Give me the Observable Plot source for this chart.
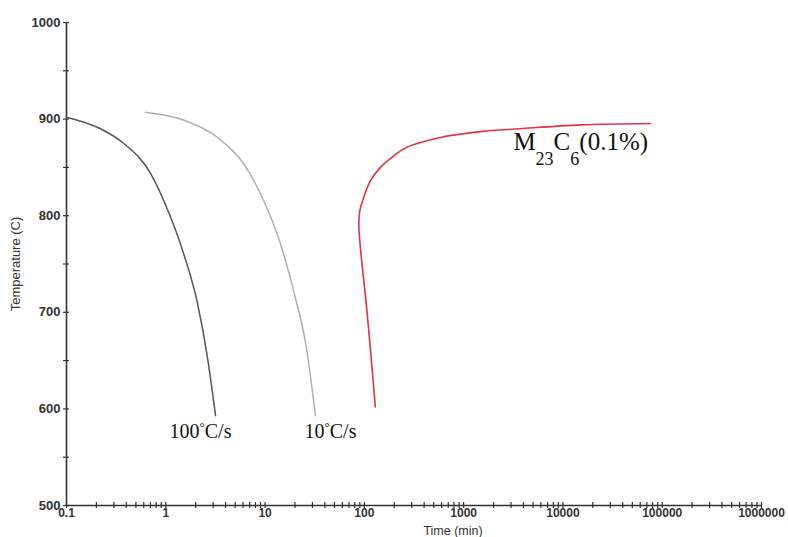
<!DOCTYPE html>
<html>
<head>
<meta charset="utf-8">
<script src="https://cdn.jsdelivr.net/npm/d3@7"></script>
<script src="https://cdn.jsdelivr.net/npm/@observablehq/plot@0.6"></script>
<style>
  html, body { margin: 0; padding: 0; background: #fff; }
  #chart { width: 788px; height: 537px; }
</style>
</head>
<body>
<div id="chart"></div>
<script>
// ---- data ----
const timeMajorTicks = [0.1, 1, 10, 100, 1000, 10000, 100000, 1000000];
const timeMinorFactors = [2, 3, 4, 5, 6, 7, 8, 9];
const tempMajorTicks = [500, 600, 700, 800, 900, 1000];
const tempMinorTicks = [550, 650, 750, 850, 950];

// 100 °C/s cooling curve
const cool100Time = [0.1, 0.22, 0.375, 0.70, 0.95, 1.51, 2.09, 2.63, 3.17];
const cool100Temp = [902, 890, 875, 844, 816, 761, 709, 653, 593];

// 10 °C/s cooling curve
const cool10Time = [0.625, 1.51, 3.32, 6.06, 9.64, 14.3, 19.3, 26.2, 32.2];
const cool10Temp = [907, 899, 881, 854, 816, 771, 723, 662, 593];

// M23C6 (0.1%) precipitation start curve
const m23Time = [129, 107, 91, 88, 90, 98.6, 115, 145, 198, 270, 584, 1476, 3700, 15000, 76000];
const m23Temp = [602, 698, 768, 790, 805, 819, 836, 850, 862, 871, 881, 887, 890, 894, 895.5];

const labels100 = "100°C/s";
const labels10 = "10°C/s";
const labelM23 = "M23C6(0.1%)";
const xTitle = "Time (min)";
const yTitle = "Temperature (C)";

// ---- tables built from the arrays ----
const s100 = cool100Time.map((t, i) => ({t, T: cool100Temp[i]}));
const s10 = cool10Time.map((t, i) => ({t, T: cool10Temp[i]}));
const sM = m23Time.map((t, i) => ({t, T: m23Temp[i]}));
const timeMinorTicks = timeMajorTicks.slice(0, -1).flatMap(d => timeMinorFactors.map(f => d * f));
const timeAllTicks = timeMajorTicks.concat(timeMinorTicks);
const tempAllTicks = tempMajorTicks.concat(tempMinorTicks);

const axisColor = "#333";
const fmtTime = d => d < 1 ? String(d) : d3.format("d")(d);
const serif = "'Liberation Serif', 'Times New Roman', serif";

const plot = Plot.plot({
  width: 788,
  height: 537,
  marginLeft: 66,
  marginRight: 27,
  marginTop: 22,
  marginBottom: 32,
  style: {background: "#fff", fontFamily: "'Liberation Sans', Arial, sans-serif", overflow: "visible"},
  x: {type: "log", domain: [0.1, 1000000]},
  y: {domain: [500, 1000]},
  marks: [
    // axis lines
    Plot.ruleY([500], {stroke: axisColor, strokeWidth: 1.6}),
    Plot.ruleX([0.1], {stroke: axisColor, strokeWidth: 1.6}),
    // crossing ticks
    Plot.axisX({ticks: timeAllTicks, tickSize: 6, dy: -3, tickFormat: () => "", label: null, stroke: axisColor, strokeWidth: 1.2}),
    Plot.axisY({ticks: tempAllTicks, tickSize: 6, dx: 3, tickFormat: () => "", label: null, stroke: axisColor, strokeWidth: 1.2}),
    // tick labels
    Plot.axisX({ticks: timeMajorTicks, tickSize: 0, tickPadding: 3, tickFormat: fmtTime, label: null, fontSize: 12, fontWeight: "bold", fill: "#333"}),
    Plot.axisY({ticks: tempMajorTicks, tickSize: 0, tickPadding: 6, tickFormat: d => String(d), label: null, fontSize: 13, fontWeight: "bold", fill: "#333"}),
    // axis titles
    Plot.text([xTitle], {frameAnchor: "bottom", text: d => d, textAnchor: "middle", lineAnchor: "middle", dx: 39, dy: 25, fontSize: 12.5, fill: "#333"}),
    Plot.text([yTitle], {frameAnchor: "left", text: d => d, textAnchor: "middle", lineAnchor: "middle", rotate: -90, dx: -51, fontSize: 13, fill: "#333"}),
    // curves
    Plot.line(s100, {x: "t", y: "T", stroke: "#555", strokeWidth: 1.5, curve: "monotone-x"}),
    Plot.line(s10, {x: "t", y: "T", stroke: "#b0b0b0", strokeWidth: 1.5, curve: "monotone-x"}),
    Plot.line(sM, {x: "t", y: "T", stroke: "#e0343f", strokeWidth: 1.6, curve: "catmull-rom"}),
    // curve labels
    Plot.text(s100, Plot.selectLast({x: "t", y: "T", text: () => labels100, dx: -15, dy: 16, fontSize: 20, fontFamily: serif, fill: "#111"})),
    Plot.text(s10, Plot.selectLast({x: "t", y: "T", text: () => labels10, dx: 15, dy: 16, fontSize: 20, fontFamily: serif, fill: "#111"})),
    Plot.text(sM, Plot.selectLast({x: "t", y: "T", text: () => labelM23, textAnchor: "start", dx: -137, dy: 19, fontSize: 25, fontFamily: serif, fill: "#111"}))
  ]
});

// rich text: superscript degree and subscripts
const NS = "http://www.w3.org/2000/svg";
function richify(el, parts) {
  while (el.firstChild) el.removeChild(el.firstChild);
  let shift = 0;
  for (const p of parts) {
    const ts = document.createElementNS(NS, "tspan");
    ts.textContent = p.t;
    const want = p.dy || 0;
    if (want !== shift) { ts.setAttribute("dy", want - shift); shift = want; }
    if (p.size) ts.setAttribute("font-size", p.size);
    el.appendChild(ts);
  }
}
plot.querySelectorAll("text").forEach(el => {
  const s = el.textContent;
  if (s === labels100) richify(el, [{t: "100"}, {t: "°", dy: -7, size: 13}, {t: "C/s"}]);
  else if (s === labels10) richify(el, [{t: "10"}, {t: "°", dy: -7, size: 13}, {t: "C/s"}]);
  else if (s === labelM23) richify(el, [{t: "M"}, {t: "23", dy: 15, size: 18}, {t: "C"}, {t: "6", dy: 15, size: 18}, {t: "(0.1%)"}]);
});

document.getElementById("chart").appendChild(plot);
</script>
</body>
</html>
